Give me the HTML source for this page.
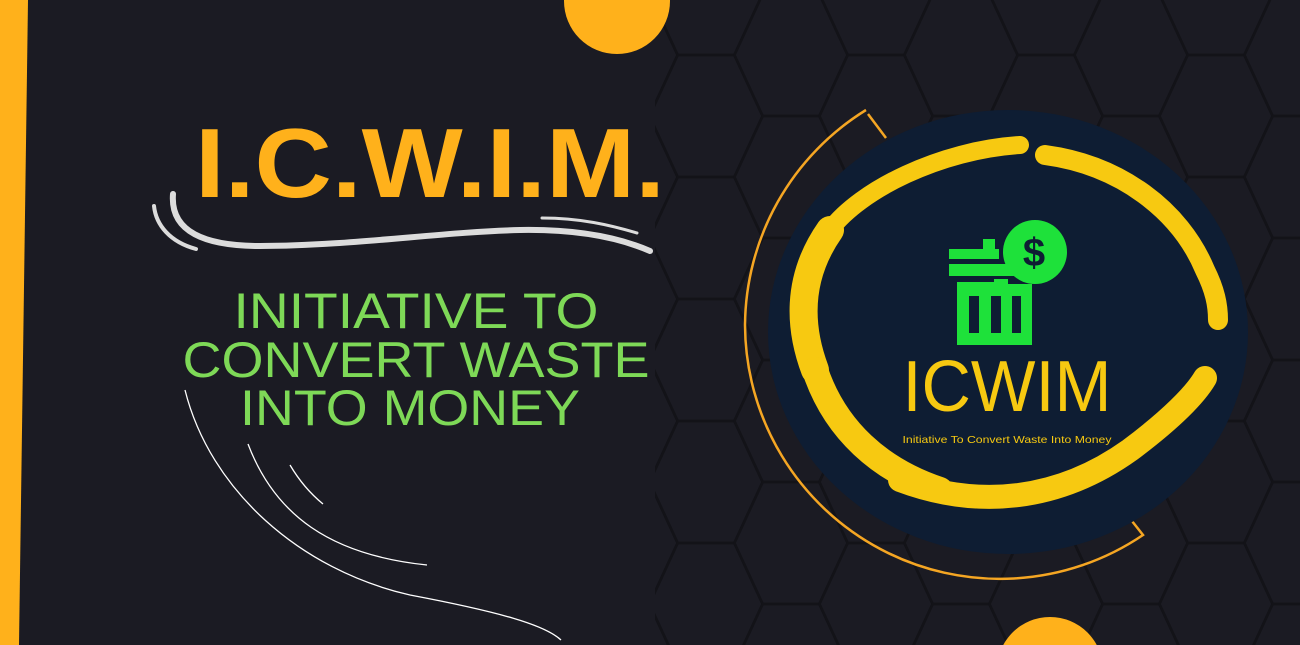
<!DOCTYPE html>
<html><head><meta charset="utf-8"><style>
html,body{margin:0;padding:0;background:#1b1b23;width:1300px;height:645px;overflow:hidden;}
#root{position:relative;width:1300px;height:645px;overflow:hidden;background:#1b1b23;}
svg{position:absolute;left:0;top:0;display:block;}
</style></head><body>
<div id="root">
<svg width="1300" height="645" viewBox="0 0 1300 645">
  <defs>
    <clipPath id="hexclip"><rect x="655" y="0" width="645" height="645"/></clipPath>
  </defs>
  <g id="hexes" clip-path="url(#hexclip)"></g>
  <polygon points="0,0 28,0 19,645 0,645" fill="#ffb11b"/>
  <circle cx="617" cy="1" r="53" fill="#ffb11b"/>
  <circle cx="1050" cy="670" r="53" fill="#ffb11b"/>
  <text x="430" y="197" text-anchor="middle" font-family="Liberation Sans, sans-serif" font-weight="bold" font-size="98" fill="#ffb11b" textLength="470" lengthAdjust="spacingAndGlyphs">I.C.W.I.M.</text>
  <g fill="none" stroke="#dcdcdc" stroke-linecap="round">
    <path d="M173,194 C170,232 205,246 260,246 C350,246 440,232 520,230 C580,229 620,238 650,251" stroke-width="6"/>
    <path d="M154,206 C156,225 170,242 196,249" stroke-width="4"/>
    <path d="M542,218 C580,218 610,225 637,233" stroke-width="3"/>
  </g>
  <g fill="none" stroke="#ffffff" stroke-width="1.3">
    <path d="M248,444 C275,515 330,555 427,565"/>
    <path d="M290,465 C300,482 312,495 323,504"/>
    <path d="M185,390 C210,490 300,570 410,595 C500,612 545,625 561,640"/>
  </g>
  <g font-family="Liberation Sans, sans-serif" font-size="50" fill="#7ed957" text-anchor="middle">
    <text x="416" y="328" textLength="365" lengthAdjust="spacingAndGlyphs">INITIATIVE TO</text>
    <text x="416" y="377" textLength="467" lengthAdjust="spacingAndGlyphs">CONVERT WASTE</text>
    <text x="410" y="425" textLength="340" lengthAdjust="spacingAndGlyphs">INTO MONEY</text>
  </g>
  <g>
    <path d="M868,114 L886,138" stroke="#f5a623" stroke-width="2.5" fill="none"/>
    <path d="M866,110 A255,255 0 0 0 745,325 A255,255 0 0 0 1143,535 L1128,516" stroke="#f5a623" stroke-width="2.5" fill="none"/>
    <ellipse cx="1008" cy="332" rx="240" ry="222" fill="#0e1d33"/>
    <g fill="none" stroke="#f7c911" stroke-linecap="round">
      <path d="M1020,145 C940,150 860,190 830,230" stroke-width="18"/>
      <path d="M830,230 C795,280 800,330 815,370" stroke-width="28"/>
      <path d="M815,370 C835,430 880,470 940,490" stroke-width="26"/>
      <path d="M900,480 C980,510 1060,500 1130,450 C1170,420 1195,395 1205,378" stroke-width="24"/>
      <path d="M1045,155 C1120,165 1180,210 1205,270 C1215,290 1218,305 1218,320" stroke-width="20"/>
    </g>
    <g fill="#1ee13a">
      <rect x="949" y="249" width="50" height="10"/>
      <rect x="983" y="239" width="12" height="14"/>
      <path d="M957,282 h37 v-3 h14 v5 h24 v61 h-75 z M969,296 v37 h10 v-37 z M991,296 v37 h10 v-37 z M1012,296 v37 h9 v-37 z" fill-rule="evenodd"/>
      <rect x="949" y="264" width="70" height="12"/>
      <circle cx="1035" cy="252" r="32"/>
      <text x="1034" y="266" text-anchor="middle" font-family="Liberation Sans, sans-serif" font-weight="bold" font-size="40" fill="#0e1d33">$</text>
    </g>
    <text x="1007" y="411" text-anchor="middle" font-family="Liberation Sans, sans-serif" font-size="72" fill="#f7c911" textLength="209" lengthAdjust="spacingAndGlyphs">ICWIM</text>
    <text x="1007" y="443" text-anchor="middle" font-family="Liberation Sans, sans-serif" font-size="10.5" fill="#f7c911" textLength="209" lengthAdjust="spacingAndGlyphs">Initiative To Convert Waste Into Money</text>
  </g>
</svg>
</div>
<script>
const g=document.getElementById('hexes');
const ns='http://www.w3.org/2000/svg';
const w=56.5, h=61;
for(let c=-2;c<8;c++){
  for(let r=-2;r<7;r++){
    const cx=791+c*85, cy=55+r*122+((c%2+2)%2?-61:0);
    const pts=[[cx-w,cy],[cx-w/2,cy-h],[cx+w/2,cy-h],[cx+w,cy],[cx+w/2,cy+h],[cx-w/2,cy+h]].map(p=>p.join(',')).join(' ');
    const p=document.createElementNS(ns,'polygon');
    p.setAttribute('points',pts);
    p.setAttribute('fill','none');
    p.setAttribute('stroke','#131318');
    p.setAttribute('stroke-width','2.5');
    
    
    g.appendChild(p);
  }
}
</script>
</body></html>
